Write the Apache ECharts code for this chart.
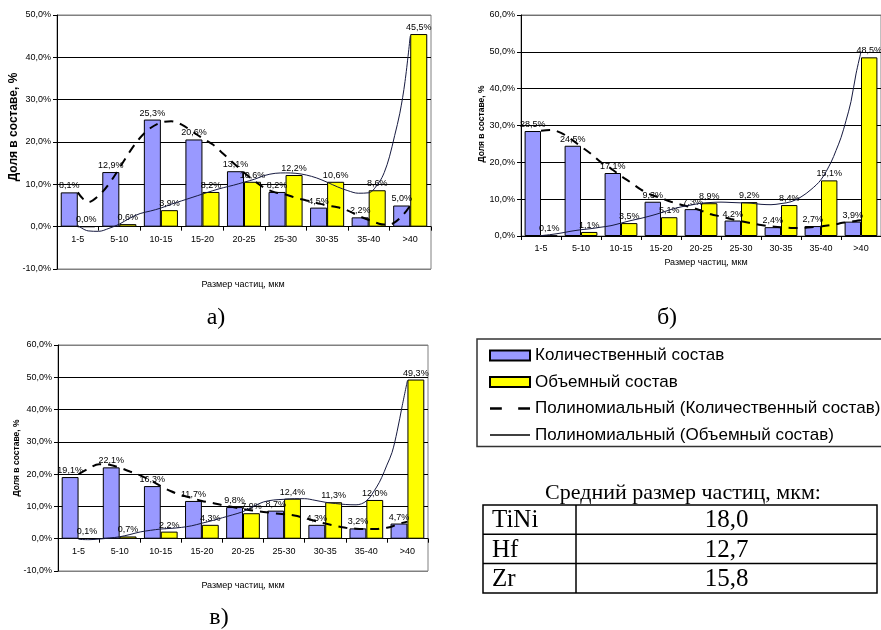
<!DOCTYPE html>
<html>
<head>
<meta charset="utf-8">
<script src="https://cdn.jsdelivr.net/npm/echarts@6/dist/echarts.min.js"></script>
<style>
  html, body { margin: 0; padding: 0; background: #fff; }
  #chart { width: 881px; height: 630px; }
</style>
</head>
<body>
<div id="chart"></div>
<script>
// Particle size classes, µm
const categories = ['1-5', '5-10', '10-15', '15-20', '20-25', '25-30', '30-35', '35-40', '>40'];

// а) TiNi — share in composition, %
const countA  = [8.1, 12.9, 25.3, 20.6, 13.1, 8.2, 4.5, 2.2, 5.0];
const volumeA = [0.0, 0.6, 3.9, 8.2, 10.6, 12.2, 10.6, 8.6, 45.5];
// б) Hf
const countB  = [28.5, 24.5, 17.1, 9.3, 7.3, 4.2, 2.4, 2.7, 3.9];
const volumeB = [0.1, 1.1, 3.5, 5.1, 8.9, 9.2, 8.4, 15.1, 48.5];
// в) Zr
const countC  = [19.1, 22.1, 16.3, 11.7, 9.8, 8.7, 4.3, 3.2, 4.7];
const volumeC = [0.1, 0.7, 2.2, 4.3, 7.9, 12.4, 11.3, 12.0, 49.3];

// Polynomial trend curves, sampled along the class index (1 = "1-5", 9 = ">40")
const trendX = [1, 1.25, 1.5, 1.75, 2, 2.25, 2.5, 2.75, 3, 3.25, 3.5, 3.75, 4, 4.25, 4.5, 4.75,
                5, 5.25, 5.5, 5.75, 6, 6.25, 6.5, 6.75, 7, 7.25, 7.5, 7.75, 8, 8.25, 8.375, 8.5,
                8.625, 8.75, 8.875, 9];
const trendCountA  = [8.1, 5.8, 7.3, 10.1, 13.8, 17.7, 21.0, 23.3, 24.6, 24.9, 24.1, 22.5, 20.9, 19.4, 17.2, 15.0,
                      12.8, 10.8, 9.1, 8.1, 7.6, 6.8, 6.2, 5.6, 5.0, 4.6, 3.8, 2.6, 1.6, 0.7, 0.5, 0.5,
                      1.0, 2.0, 3.3, 5.0];
const trendVolumeA = [0.3, -1.0, -1.1, -0.4, 0.6, 2.0, 3.1, 3.7, 4.4, 5.3, 6.1, 6.9, 7.7, 8.5, 9.2, 9.8,
                      10.5, 11.2, 12.1, 12.6, 12.7, 12.6, 12.2, 11.5, 10.5, 9.4, 8.5, 7.9, 8.0, 10.5, 12.8, 16.5,
                      21.5, 26.8, 34.3, 45.0];
const trendCountB  = [28.6, 28.8, 28.0, 26.3, 24.3, 22.3, 20.0, 18.3, 16.3, 14.5, 12.6, 11.2, 10.3, 9.3, 8.5, 7.8,
                      6.9, 5.9, 5.3, 4.6, 4.0, 3.5, 3.0, 2.6, 2.4, 2.2, 2.2, 2.4, 2.6, 3.0, 3.2, 3.5,
                      3.7, 3.9, 4.1, 4.3];
const trendVolumeB = [0.1, 0.4, 0.8, 1.3, 1.7, 2.0, 2.4, 2.8, 3.5, 4.2, 4.8, 5.5, 6.3, 7.2, 7.9, 8.4,
                      8.9, 9.1, 9.2, 9.1, 9.0, 8.9, 8.6, 8.5, 8.8, 9.3, 10.6, 12.6, 15.3, 20.0, 23.2, 26.7,
                      31.3, 36.5, 44.0, 50.0];
const trendCountC  = [20.0, 21.8, 23.1, 22.9, 22.0, 20.8, 19.6, 18.1, 16.3, 14.7, 13.5, 12.6, 11.7, 11.1, 10.4, 9.8,
                      9.2, 8.7, 8.3, 7.9, 7.6, 7.2, 6.4, 5.5, 4.7, 4.0, 3.4, 3.1, 3.0, 3.0, 3.2, 3.4,
                      3.8, 4.4, 4.9, 5.3];
const trendVolumeC = [-0.2, -0.3, -0.1, 0.2, 0.6, 1.3, 2.1, 2.6, 3.0, 3.2, 3.5, 4.0, 4.8, 5.6, 6.5, 7.4,
                      8.4, 10.0, 11.4, 12.0, 12.2, 12.4, 12.4, 11.9, 11.3, 10.9, 10.6, 10.5, 11.7, 16.0, 19.0, 22.8,
                      26.7, 33.3, 41.3, 49.0];

// Mean particle size table
const tableTitle = 'Средний размер частиц, мкм:';
const materials = ['TiNi', 'Hf', 'Zr'];
const meanSizes = ['18,0', '12,7', '15,8'];

const NAME_COUNT = 'Количественный состав';
const NAME_VOLUME = 'Объемный состав';
const NAME_TREND_COUNT = 'Полиномиальный (Количественный состав)';
const NAME_TREND_VOLUME = 'Полиномиальный (Объемный состав)';

const SANS = '"Liberation Sans", Arial, sans-serif';
const SERIF = '"Liberation Serif", "Times New Roman", serif';
const BLUE = '#9999ff';
const YELLOW = '#ffff00';
const TREND_SOLID = '#161a40';
const DASH = [9, 7];

const pct = v => v.toFixed(1).replace('.', ',') + '%';

// Panel layout: plot rectangles and y ranges
const panels = [
  { left: 57,  top: 15,  width: 374, height: 254, min: -10, max: 50,
    split: ['#808080', '#000', '#000', '#000', '#000', '#000', '#808080'],
    count: countA, volume: volumeA, tCount: trendCountA, tVolume: trendVolumeA },
  { left: 521, top: 15,  width: 375, height: 221, min: 0, max: 60,
    split: ['#000', '#000', '#000', '#000', '#000', '#000', '#707070'],
    count: countB, volume: volumeB, tCount: trendCountB, tVolume: trendVolumeB },
  { left: 58,  top: 345, width: 370, height: 226, min: -10, max: 60,
    split: ['#808080', '#000', '#000', '#000', '#000', '#000', '#000', '#808080'],
    count: countC, volume: volumeC, tCount: trendCountC, tVolume: trendVolumeC }
];
const N = panels.length;

const grid = [], xAxis = [], yAxis = [], series = [];
const barLabel = {
  show: true, position: 'top', distance: 2,
  fontFamily: SANS, fontSize: 9, color: '#000',
  formatter: p => pct(p.value)
};

// grids 0..2: bars on category axes; grids 3..5: trend curves on numeric class-index axes
panels.forEach((p, i) => {
  grid[i] = {
    left: p.left, top: p.top, width: p.width, height: p.height,
    show: true, borderColor: '#808080', borderWidth: 1, backgroundColor: '#fff'
  };
  grid[N + i] = { left: p.left, top: p.top, width: p.width, height: p.height, show: false };

  // the category axis crosses the value axis at 0 %
  const zeroShift = -p.height * (0 - p.min) / (p.max - p.min);
  xAxis[i] = {
    type: 'category', gridIndex: i, data: categories, position: 'bottom', offset: zeroShift,
    axisLine: { onZero: false, lineStyle: { color: '#000', width: 1 } },
    axisTick: { show: true, interval: 0, length: 4, lineStyle: { color: '#000' } },
    axisLabel: { interval: 0, fontFamily: SANS, fontSize: 9, color: '#000', margin: 8 },
    splitLine: { show: false }
  };
  xAxis[N + i] = { type: 'value', gridIndex: N + i, min: 0.5, max: 9.5, show: false };

  yAxis[i] = {
    type: 'value', gridIndex: i, min: p.min, max: p.max, interval: 10,
    axisLine: { show: true, onZero: false, lineStyle: { color: '#000', width: 1 } },
    axisTick: { show: true, length: 4, lineStyle: { color: '#000' } },
    axisLabel: { fontFamily: SANS, fontSize: 9, color: '#000', margin: 6, formatter: pct },
    splitLine: { show: true, lineStyle: { color: p.split, width: 1 } }
  };
  yAxis[N + i] = { type: 'value', gridIndex: N + i, min: p.min, max: p.max, interval: 10, show: false };

  series.push({
    name: NAME_COUNT, type: 'bar', xAxisIndex: i, yAxisIndex: i,
    data: p.count, barGap: '0%', barCategoryGap: '18%',
    itemStyle: { color: BLUE, borderColor: '#000', borderWidth: 1 },
    label: barLabel, z: 2
  });
  series.push({
    name: NAME_VOLUME, type: 'bar', xAxisIndex: i, yAxisIndex: i,
    data: p.volume, barGap: '0%', barCategoryGap: '18%',
    itemStyle: { color: YELLOW, borderColor: '#000', borderWidth: 1 },
    label: barLabel, z: 2
  });
  series.push({
    name: NAME_TREND_COUNT, type: 'line', xAxisIndex: N + i, yAxisIndex: N + i,
    data: trendX.map((x, k) => [x, p.tCount[k]]),
    smooth: 0.35, symbol: 'none', showSymbol: false, clip: false,
    lineStyle: { color: '#000', width: 2, type: DASH },
    itemStyle: { color: '#000' }, z: 4
  });
  series.push({
    name: NAME_TREND_VOLUME, type: 'line', xAxisIndex: N + i, yAxisIndex: N + i,
    data: trendX.map((x, k) => [x, p.tVolume[k]]),
    smooth: 0.35, symbol: 'none', showSymbol: false, clip: false,
    lineStyle: { color: TREND_SOLID, width: 1, type: 'solid' },
    itemStyle: { color: TREND_SOLID }, z: 4
  });
});

// Axis titles, panel captions and the mean-size table
const graphic = [];
const yTitles = [
  { x: 14, y: 127, size: 12 },
  { x: 482, y: 124, size: 8.5 },
  { x: 17, y: 458, size: 8.5 }
];
yTitles.forEach(t => graphic.push({
  type: 'text', x: t.x, y: t.y, rotation: Math.PI / 2,
  style: { text: 'Доля в составе, %', font: `bold ${t.size}px ${SANS}`, fill: '#000',
           textAlign: 'center', textVerticalAlign: 'middle' }
}));
const xTitles = [ { x: 243, y: 285 }, { x: 706, y: 263 }, { x: 243, y: 586 } ];
xTitles.forEach(t => graphic.push({
  type: 'text', x: t.x, y: t.y,
  style: { text: 'Размер частиц, мкм', font: `9px ${SANS}`, fill: '#000',
           textAlign: 'center', textVerticalAlign: 'middle' }
}));
const captions = [ { t: 'а)', x: 216, y: 318 }, { t: 'б)', x: 667, y: 318 }, { t: 'в)', x: 219, y: 618 } ];
captions.forEach(c => graphic.push({
  type: 'text', x: c.x, y: c.y,
  style: { text: c.t, font: `24px ${SERIF}`, fill: '#000', textAlign: 'center', textVerticalAlign: 'middle' }
}));

// table
const tX0 = 483, tX1 = 877, tDiv = 576, tY0 = 505, rowH = 29.3;
graphic.push({
  type: 'text', x: 683, y: 493,
  style: { text: tableTitle, font: `22px ${SERIF}`, fill: '#000', textAlign: 'center', textVerticalAlign: 'middle' }
});
graphic.push({
  type: 'rect', shape: { x: tX0, y: tY0, width: tX1 - tX0, height: rowH * materials.length },
  style: { fill: '#fff', stroke: '#000', lineWidth: 1.5 }
});
graphic.push({
  type: 'line', shape: { x1: tDiv, y1: tY0, x2: tDiv, y2: tY0 + rowH * materials.length },
  style: { stroke: '#000', lineWidth: 1.5 }
});
materials.forEach((m, r) => {
  const yc = tY0 + rowH * r + rowH / 2;
  if (r > 0) {
    graphic.push({
      type: 'line', shape: { x1: tX0, y1: tY0 + rowH * r, x2: tX1, y2: tY0 + rowH * r },
      style: { stroke: '#000', lineWidth: 1.5 }
    });
  }
  graphic.push({
    type: 'text', x: tX0 + 9, y: yc + 1,
    style: { text: m, font: `25px ${SERIF}`, fill: '#000', textAlign: 'left', textVerticalAlign: 'middle' }
  });
  graphic.push({
    type: 'text', x: (tDiv + tX1) / 2, y: yc + 1,
    style: { text: meanSizes[r], font: `25px ${SERIF}`, fill: '#000', textAlign: 'center', textVerticalAlign: 'middle' }
  });
});

const chart = echarts.init(document.getElementById('chart'), null, { renderer: 'canvas' });
chart.setOption({
  backgroundColor: '#fff',
  animation: false,
  grid, xAxis, yAxis, series, graphic,
  legend: {
    orient: 'vertical', left: 477, top: 339,
    padding: [8, 10, 3, 12], itemGap: 9.5,
    itemWidth: 40, itemHeight: 10,
    borderColor: '#333', borderWidth: 1.5, backgroundColor: '#fff',
    textStyle: { fontFamily: SANS, fontSize: 17, color: '#000' },
    data: [
      { name: NAME_COUNT, icon: 'rect' },
      { name: NAME_VOLUME, icon: 'rect' },
      { name: NAME_TREND_COUNT, icon: 'path://M0,0h13v3h-13zM31,0h13v3h-13z',
        itemStyle: { color: '#000', borderWidth: 0 } },
      { name: NAME_TREND_VOLUME, icon: 'path://M0,0h44v1.4h-44z',
        itemStyle: { color: '#000', borderWidth: 0 } }
    ]
  }
});
</script>
</body>
</html>
